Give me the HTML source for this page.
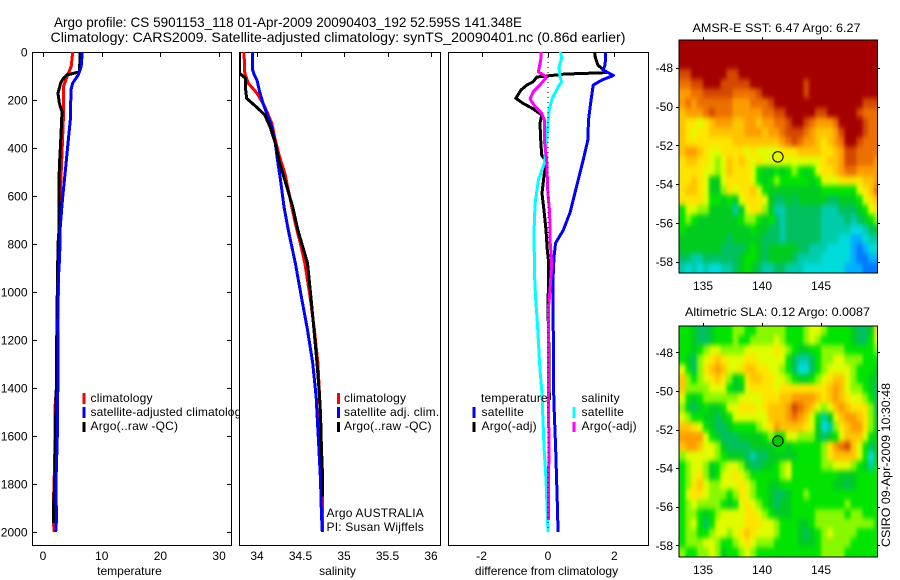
<!DOCTYPE html>
<html lang="en">
<head>
<meta charset="utf-8">
<title>Argo profile 5901153_118</title>
<style>
html,body{margin:0;padding:0;background:#fff;}
svg{display:block;}
text{font-family:"Liberation Sans",sans-serif;font-size:12px;fill:#000;}
.title{font-size:14px;}
.legend{letter-spacing:.2px;}
</style>
</head>
<body>
<svg id="chart" xmlns="http://www.w3.org/2000/svg" width="900" height="580" viewBox="0 0 900 580">
<defs>
<clipPath id="clip-temp"><rect x="32" y="52" width="199" height="493"/></clipPath>
<clipPath id="clip-sal"><rect x="239" y="52" width="201" height="493"/></clipPath>
<clipPath id="clip-diff"><rect x="448" y="52" width="200" height="493"/></clipPath>
<clipPath id="clip-sst"><rect x="679" y="40" width="198" height="233"/></clipPath>
<clipPath id="clip-sla"><rect x="679" y="326" width="198" height="231"/></clipPath>
<filter id="map-smooth" filterUnits="userSpaceOnUse" x="640" y="0" width="260" height="580" color-interpolation-filters="sRGB"><feGaussianBlur stdDeviation="1.6 2.6"/></filter>
</defs>
<rect width="900" height="580" fill="#fff"/>
<text class="title" x="54" y="27" textLength="468" lengthAdjust="spacingAndGlyphs">Argo profile: CS 5901153_118 01-Apr-2009 20090403_192 52.595S 141.348E</text>
<text class="title" x="50.5" y="42" textLength="575" lengthAdjust="spacingAndGlyphs">Climatology: CARS2009. Satellite-adjusted climatology: synTS_20090401.nc (0.86d earlier)</text>
<g id="panel-temp"></g>
<g id="legend-temp">
<rect x="82.5" y="393" width="3" height="11" fill="#f00"/>
<rect x="82.5" y="407" width="3" height="11" fill="#00f"/>
<rect x="82.5" y="422" width="3" height="10" fill="#000"/>
<text class="legend" x="90.5" y="402">climatology</text>
<text class="legend" x="90.5" y="416" style="letter-spacing:.12px">satellite-adjusted climatology</text>
<text class="legend" x="90.5" y="430">Argo(..raw -QC)</text>
</g>
<g id="panel-sal"></g>
<g id="legend-sal">
<rect x="337" y="393" width="3" height="11" fill="#f00"/>
<rect x="337" y="407" width="3" height="11" fill="#00f"/>
<rect x="337" y="422" width="3" height="10" fill="#000"/>
<text class="legend" x="344" y="402">climatology</text>
<text class="legend" x="344" y="416">satellite adj. clim.</text>
<text class="legend" x="344" y="430">Argo(..raw -QC)</text>
<text class="legend" x="326.5" y="517">Argo AUSTRALIA</text>
<text class="legend" x="326.5" y="531">PI: Susan Wijffels</text>
</g>
<g id="panel-diff"></g>
<g id="legend-diff">
<text class="legend" x="481" y="402">temperature</text>
<rect x="472.5" y="407" width="3" height="11" fill="#00f"/>
<rect x="472.5" y="422" width="3" height="10" fill="#000"/>
<text class="legend" x="481.5" y="416">satellite</text>
<text class="legend" x="481.5" y="430">Argo(-adj)</text>
<text class="legend" x="581.5" y="402">salinity</text>
<rect x="572.5" y="407" width="3" height="11" fill="#0ff"/>
<rect x="572.5" y="422" width="3" height="10" fill="#f0f"/>
<text class="legend" x="581.5" y="416">satellite</text>
<text class="legend" x="581.5" y="430">Argo(-adj)</text>
</g>
<g id="map-sst"></g>
<text x="692.5" y="32" textLength="168" lengthAdjust="spacingAndGlyphs">AMSR-E SST: 6.47 Argo: 6.27</text>
<g id="map-sla"></g>
<text x="685" y="316" textLength="185" lengthAdjust="spacingAndGlyphs">Altimetric SLA: 0.12 Argo: 0.0087</text>
<text transform="translate(890 547) rotate(-90)" textLength="164" lengthAdjust="spacingAndGlyphs">CSIRO 09-Apr-2009 10:30:48</text>
</svg>
<script>
// ---- tick labels ----
const depthTicks = [0,200,400,600,800,1000,1200,1400,1600,1800,2000];
const tempTicks = [0,10,20,30];
const salTicks = [34,34.5,35,35.5,36];
const diffTicks = [-2,0,2];
const lonTicks = [135,140,145];
const latTicks = [-48,-50,-52,-54,-56,-58];

// ---- temperature panel series ----
const tempClimDepth = [0,60,90,145,283,380,617,800,1000,1200,1400,1450,1700,1900,2000];
const tempClimValue = [5.06,4.8,4.3,3.46,3.46,3.3,2.9,2.7,2.6,2.5,2.4,2.1,2.0,1.76,1.85];
const tempSatDepth = [0,60,96,130,158,283,380,479,617,742,850,950,1130,1320,1600,1800,1950,2000];
const tempSatValue = [6.7,6.5,6.0,5.05,4.77,4.65,4.26,3.87,3.3,2.9,2.85,2.6,2.5,2.55,2.44,2.2,2.3,2.16];
const tempArgoDepth = [0,83,96,110,130,172,214,248,325,380,479,617,742,800,1000,1200,1400,1480,1600,1800,1900,1962];
const tempArgoValue = [6.36,6.2,4.03,3.46,3.0,2.55,2.8,3.24,3.1,3.0,2.78,2.72,2.72,2.55,2.44,2.33,2.27,2.2,2.1,2.0,1.76,1.76];

// ---- salinity panel series ----
const salClimDepth = [0,89,130,172,228,297,367,437,505,575,645,714,742,800,879,1021,1158,1296,1438,1600,1800,2000];
const salClimValue = [33.85,33.86,33.9,34,34.09,34.17,34.21,34.26,34.32,34.36,34.4,34.44,34.46,34.5,34.55,34.61,34.66,34.7,34.72,34.73,34.75,34.75];
const salSatDepth = [0,75,96,117,165,214,255,311,380,463,533,645,742,879,1021,1158,1296,1438,1505,1645,1783,1920,2000];
const salSatValue = [33.95,33.95,33.97,34,34.03,34.07,34.11,34.17,34.21,34.24,34.27,34.31,34.36,34.44,34.51,34.58,34.64,34.68,34.69,34.71,34.73,34.74,34.75];
const salArgoDepth = [0,89,110,158,193,228,262,311,380,463,533,645,742,879,1021,1158,1296,1438,1505,1645,1783,1853];
const salArgoValue = [33.8,33.8,33.87,33.87,33.88,33.99,34.09,34.15,34.21,34.26,34.32,34.41,34.47,34.58,34.62,34.655,34.69,34.72,34.73,34.74,34.755,34.755];

// ---- difference panel series ----
const diffTempSatDepth = [0,54,75,98,117,138,208,283,367,450,533,667,742,796,854,950,1200,1367,1505,1645,1783,1920,2000];
const diffTempSatValue = [1.74,1.72,1.66,1.97,1.62,1.36,1.29,1.22,1.2,1.06,.91,.67,.46,.23,.18,.15,.16,.16,.19,.23,.26,.29,.3];
const diffTempArgoDepth = [0,26,54,86,92,104,124,138,158,193,214,234,262,297,367,429,450,505,589,672,742,825,879,992,1075,1250,1450];
const diffTempArgoValue = [1.4,1.43,1.5,1.77,.5,-.34,-.45,-.64,-.81,-.97,-.75,-.48,-.19,-.24,-.22,-.19,-.09,-.11,-.18,-.11,-.06,-.02,.02,.01,0,.03,.04];
const diffSalSatDepth = [0,26,63,104,124,145,193,242,367,464,533,631,742,921,1033,1130,1229,1325,1421,1505,1645,1783,1920,2000];
const diffSalSatValue = [.38,.41,.33,.36,.41,.31,.13,.03,-.04,-.11,-.29,-.39,-.42,-.41,-.37,-.32,-.28,-.24,-.18,-.16,-.12,-.06,-.02,0];
const diffSalArgoDepth = [0,26,83,104,138,165,196,228,255,283,367,450,575,672,783,879,992,1075,1367,1500,1600,1950];
const diffSalArgoValue = [-.21,-.21,-.29,-.04,-.24,-.44,-.54,-.39,-.19,-.11,-.11,-.04,-.01,.05,.06,.11,.06,.01,.01,.01,.03,.01];

// ---- profile location ----
const profileLon = [141.348];
const profileLat = [-52.595];

// ---- map grids: colour level per half-degree cell, north to south, west to east ----
const sstGrid = [
[14,14,14,14,14,14,14,14,14,14,14,14,14,14,14,14,14,14,14,14,14,14,14,14,14,14,14,14,14,14,14,14,14,14],
[14,14,14,14,14,14,14,14,14,14,14,14,14,14,14,14,14,14,14,14,14,14,14,14,14,14,14,14,14,14,14,14,14,14],
[14,14,14,14,14,14,14,14,14,14,14,14,14,14,14,14,14,14,14,14,14,14,14,14,14,14,14,14,14,14,14,14,14,14],
[13,13,14,14,14,14,14,14,13,13,14,14,14,14,14,14,14,14,14,14,14,14,14,14,14,14,14,14,14,14,14,14,14,14],
[12,12,13,13,14,14,14,13,13,13,13,13,14,14,14,14,14,14,14,14,14,13,14,14,14,14,14,14,14,14,14,14,14,14],
[11,11,12,12,13,13,13,13,13,12,12,12,12,13,14,14,14,14,14,14,14,13,14,14,14,14,14,14,14,14,14,14,14,14],
[11,12,11,12,12,12,12,12,12,11,11,11,12,12,12,13,14,14,14,14,14,14,14,14,14,14,14,14,14,14,14,13,13,13],
[10,11,11,11,12,13,12,12,12,11,11,11,11,11,12,12,13,13,14,14,14,14,14,13,13,14,14,14,14,14,13,12,12,12],
[10,9,9,8,9,10,11,11,11,10,10,11,11,10,11,11,12,12,13,14,14,13,12,11,11,11,12,14,14,14,14,13,12,12],
[10,9,8,9,9,10,10,10,10,10,10,11,11,11,10,11,11,12,13,13,13,12,11,10,10,10,11,13,14,14,14,13,12,12],
[10,9,9,9,9,9,9,9,9,10,10,10,10,10,10,10,10,11,12,13,12,11,11,10,9,10,11,12,14,14,13,12,12,12],
[10,11,11,10,9,8,8,9,9,9,9,8,9,8,8,8,8,9,9,9,10,10,10,10,9,9,10,11,13,13,12,12,12,12],
[9,10,10,9,9,8,7,8,10,9,10,9,8,9,8,8,8,8,8,8,8,8,8,8,9,10,10,11,13,13,12,12,12,11],
[9,9,9,9,8,8,7,8,10,9,9,9,8,6,5,5,6,5,6,7,6,5,6,8,9,9,10,11,12,12,11,11,11,11],
[9,9,10,9,8,5,5,8,9,9,9,9,8,6,5,6,7,6,6,6,6,6,5,6,8,8,8,9,9,9,9,10,10,11],
[9,10,10,9,8,5,5,7,9,8,9,9,10,8,6,5,5,5,5,5,5,5,5,5,6,6,6,6,6,6,8,9,10,12],
[9,9,9,9,8,6,6,5,6,5,8,9,9,9,8,5,4,4,5,4,5,5,5,5,5,4,4,5,5,5,6,8,9,10],
[6,8,8,7,7,5,5,5,5,3,5,8,9,9,7,5,3,3,4,4,4,4,4,4,3,3,3,4,4,4,5,6,8,9],
[6,7,6,5,5,5,5,5,5,5,6,7,7,6,5,6,4,3,4,4,4,4,4,4,3,3,3,3,4,3,4,5,6,7],
[6,5,5,5,5,5,5,5,5,5,5,5,6,5,5,4,4,3,4,4,4,4,4,4,3,3,3,3,3,2,2,3,4,5],
[5,5,5,5,5,5,5,5,4,5,5,5,5,5,4,4,4,3,4,4,4,4,4,4,3,3,3,2,2,1,1,2,3,3],
[5,5,5,5,5,5,5,4,4,4,4,5,6,5,4,5,5,5,5,5,4,4,3,3,3,2,2,2,2,1,0,1,2,2],
[4,4,3,3,4,4,4,4,4,4,5,6,6,5,4,5,5,5,5,4,3,3,3,3,2,2,2,2,2,1,0,0,1,1],
[3,2,3,2,3,2,2,3,3,4,5,6,5,4,3,3,4,4,3,3,3,2,2,2,2,2,2,2,1,1,1,0,0,0]
];
const slaGrid = [
[6,6,5,4,4,5,6,6,6,7,7,6,6,7,7,7,7,7,6,6,6,7,8,8,7,6,6,6,6,5,4,4,5,9],
[6,6,5,4,4,5,6,6,6,7,6,6,7,7,7,7,8,7,6,6,6,7,8,7,6,6,6,6,6,5,4,4,6,8],
[6,6,5,6,7,8,8,7,7,7,7,8,8,8,8,8,9,8,7,6,5,5,6,6,7,7,7,7,6,6,6,6,6,7],
[6,5,4,7,8,9,10,9,8,8,8,9,9,8,8,8,8,8,6,4,3,3,4,6,7,7,8,8,7,7,7,6,6,6],
[8,6,4,7,9,10,11,10,8,8,9,10,10,9,9,8,8,7,6,4,2,2,4,6,7,8,8,8,8,7,6,6,6,5],
[10,7,6,7,8,9,10,9,7,5,6,9,10,10,9,9,8,8,7,6,5,5,6,7,8,9,10,10,8,7,6,6,5,5],
[10,7,7,7,7,8,8,8,6,5,5,8,9,9,9,9,8,9,9,9,9,9,9,9,9,10,11,10,8,7,7,6,5,4],
[8,6,5,6,7,7,7,7,7,7,8,8,8,8,9,9,9,10,10,11,11,11,11,10,9,10,11,10,9,8,8,7,6,4],
[7,5,4,5,6,5,5,6,8,8,9,9,9,8,9,10,10,10,11,13,12,11,10,8,7,8,10,11,10,9,9,9,7,4],
[8,7,6,6,5,5,4,5,6,8,8,8,8,8,8,10,10,10,11,12,11,10,8,6,3,5,8,10,11,11,10,9,7,5],
[10,10,9,8,6,5,4,4,5,6,6,6,6,7,8,9,11,10,10,10,10,9,8,5,2,3,7,9,10,11,11,9,7,5],
[11,11,11,11,8,6,5,4,4,4,5,5,5,5,6,7,6,6,8,8,7,7,7,5,4,5,6,8,10,10,10,8,6,5],
[10,11,11,10,8,8,7,5,4,4,4,4,5,5,5,5,6,6,5,6,6,6,6,6,7,9,11,12,13,10,8,6,4,5],
[7,8,8,8,8,8,7,6,5,5,5,4,3,4,4,5,5,5,5,5,6,6,6,6,7,9,10,10,10,10,8,6,2,5],
[6,7,8,8,7,5,6,7,8,8,7,5,4,4,5,5,6,7,8,6,6,6,6,6,7,7,8,8,8,7,6,5,3,6],
[6,7,8,9,7,5,6,8,8,9,8,7,6,6,6,6,6,7,8,6,6,6,6,6,6,6,6,5,5,5,6,6,6,6],
[6,7,9,10,8,7,7,8,8,8,9,8,7,6,6,5,5,6,6,6,6,6,6,6,6,6,5,5,4,5,6,6,6,6],
[6,8,9,9,8,7,7,7,6,7,9,8,7,6,6,5,4,4,5,6,6,7,6,6,6,6,6,6,6,6,6,6,6,6],
[6,7,8,7,7,7,7,6,5,6,8,9,8,7,6,5,4,5,5,6,6,6,6,6,6,6,6,6,7,6,6,6,6,6],
[6,7,7,6,5,6,7,8,8,8,8,9,9,8,7,6,5,5,5,6,6,6,6,7,7,7,7,7,6,7,7,6,6,6],
[6,7,8,6,4,6,8,8,8,8,8,9,9,9,8,8,7,6,6,6,5,5,6,7,7,7,7,7,7,7,7,7,7,6],
[6,7,7,6,6,7,8,8,7,8,9,10,9,8,8,8,7,6,6,6,5,4,5,6,7,8,7,7,7,7,6,6,6,6],
[6,7,7,7,8,8,7,6,6,7,8,9,8,7,7,7,6,6,6,6,5,5,5,6,7,7,7,7,7,6,6,6,6,6],
[7,6,6,7,7,8,7,5,6,6,7,8,7,6,6,6,6,6,6,6,6,6,6,6,7,7,7,7,6,6,6,6,6,6]
];
// colour ramp lookup, cold to warm
const levelColors = ['#0078ff','#00b0ff','#00dcdc','#00ccaa','#00c060','#00cc20','#00e400','#88f800','#e0fc00','#ffe400','#ffc400','#fc9c00','#ec7000','#d44800','#a40000'];

// ---- axis functions ----
const xTemp = v => 43 + 5.87 * v;
const xSal = v => 257 + 87 * (v - 34);
const xDiff = v => 548 + 33.2 * v;
const yDepth = d => 52 + 0.24 * d;
const xLon = v => 703 + 11.8 * (v - 135);
const ySstLat = v => 67.7 + 19.4 * (-48 - v);
const ySlaLat = v => 352.3 + 19.3 * (-48 - v);

const NS = 'http://www.w3.org/2000/svg';
function mk(parent, tag, attrs, txt) {
  const e = document.createElementNS(NS, tag);
  for (const k in attrs) e.setAttribute(k, attrs[k]);
  if (txt !== undefined) e.textContent = txt;
  parent.appendChild(e);
  return e;
}
function drawPanel(g, left, right, bottom, clipId, xScale, xTicks, xLabel, xLabelCx, hasDepthAxis, series) {
  const bg = mk(g, 'rect', {x: left, y: 52, width: right - left, height: bottom - 52, fill: '#fff'});
  
  
  const box = mk(g, 'rect', {x: left + .5, y: 52.5, width: right - left, height: bottom - 52, fill: 'none', stroke: '#000', 'stroke-width': 1, 'shape-rendering': 'crispEdges'});
  
  
  xTicks.forEach(v => {
    const x = Math.round(xScale(v)) + .5;
    const t = mk(g, 'line', {x1: x, x2: x, y1: 52, y2: 57, stroke: '#000', 'shape-rendering': 'crispEdges'});
    
    
    const l = mk(g, 'text', {x: xScale(v), y: 560, 'text-anchor': 'middle'}, String(v));
    
    
  });
  if (hasDepthAxis) {
    depthTicks.forEach(d => {
      const y = Math.round(yDepth(d)) + .5;
      [[left, left + 5], [right - 4, right + 1]].forEach(p => {
        const t = mk(g, 'line', {x1: p[0], x2: p[1], y1: y, y2: y, stroke: '#000', 'shape-rendering': 'crispEdges'});
        
        
      });
      const l = mk(g, 'text', {x: 27.5, y: yDepth(d) + 4.5, 'text-anchor': 'end'}, String(d));
      
      
    });
  }
  const lab = mk(g, 'text', {x: xLabelCx, y: 575, 'text-anchor': 'middle'}, xLabel);
  
  
  const inner = mk(g, 'g', {'clip-path': 'url(#' + clipId + ')'});
  series.forEach(s => {
    const pts = s.depth.map((d, i) => xScale(s.value[i]).toFixed(1) + ',' + yDepth(d).toFixed(1)).join(' ');
    const p = mk(inner, 'polyline', {points: pts, fill: 'none', stroke: s.color, 'stroke-width': s.width, 'shape-rendering': 'crispEdges', 'stroke-linejoin': 'round'});
    
    
  });
}
function drawMap(g, top, bottom, clipId, grid, yLat, latTop, circleFill) {
  const clipped = mk(g, 'g', {'clip-path': 'url(#' + clipId + ')'});
  const cells = mk(clipped, 'g', {filter: 'url(#map-smooth)'});
  const lastRow = grid.length - 1;
  grid.forEach((row, r) => row.forEach((level, c) => {
    // outermost cells are stretched past the frame so the smoothing does not fade at the edges
    const x0 = c === 0 ? xLon(133) - 20 : xLon(133 + c * .5);
    const x1 = c === row.length - 1 ? xLon(133 + (c + 1) * .5) + 20 : xLon(133 + (c + 1) * .5);
    const y0 = r === 0 ? yLat(latTop) - 20 : yLat(latTop - r * .5);
    const y1 = r === lastRow ? yLat(latTop - (r + 1) * .5) + 20 : yLat(latTop - (r + 1) * .5);
    const cell = mk(cells, 'rect', {x: x0.toFixed(1), y: y0.toFixed(1), width: (x1 - x0 + .6).toFixed(1), height: (y1 - y0 + .6).toFixed(1), fill: levelColors[level], 'shape-rendering': 'crispEdges'});
    
    
  }));
  const frame = mk(g, 'rect', {x: 679, y: top, width: 198.5, height: bottom - top, fill: 'none', stroke: '#000', 'shape-rendering': 'crispEdges'});
  
  
  lonTicks.forEach(v => {
    const x = Math.round(xLon(v)) + .5;
    const t = mk(g, 'line', {x1: x, x2: x, y1: top - 3, y2: top, stroke: '#000', 'shape-rendering': 'crispEdges'});
    
    
    const l = mk(g, 'text', {x: xLon(v), y: bottom + 17, 'text-anchor': 'middle'}, String(v));
    
    
  });
  latTicks.forEach(v => {
    const y = Math.round(yLat(v)) + .5;
    [[676, 679], [877, 880]].forEach(p => {
      const t = mk(g, 'line', {x1: p[0], x2: p[1], y1: y, y2: y, stroke: '#000', 'shape-rendering': 'crispEdges'});
      
      
    });
    const l = mk(g, 'text', {x: 673, y: yLat(v) + 4.5, 'text-anchor': 'end'}, String(v));
    
    
  });
  const marker = mk(g, 'circle', {cx: xLon(profileLon[0]), cy: yLat(profileLat[0]), r: 5.2, fill: circleFill, stroke: '#000', 'stroke-width': 1});
  
  
}

drawPanel(document.getElementById('panel-temp'), 32, 231, 545, 'clip-temp', xTemp, tempTicks, 'temperature', 129.5, true, [
  {name: 'temperature-climatology-line', depth: tempClimDepth, value: tempClimValue, color: '#f00', width: 3},
  {name: 'temperature-argo-line', depth: tempArgoDepth, value: tempArgoValue, color: '#000', width: 3},
  {name: 'temperature-satellite-line', depth: tempSatDepth, value: tempSatValue, color: '#00f', width: 3}
]);
drawPanel(document.getElementById('panel-sal'), 239, 440, 545, 'clip-sal', xSal, salTicks, 'salinity', 337.5, false, [
  {name: 'salinity-climatology-line', depth: salClimDepth, value: salClimValue, color: '#f00', width: 3},
  {name: 'salinity-satellite-line', depth: salSatDepth, value: salSatValue, color: '#00f', width: 3},
  {name: 'salinity-argo-line', depth: salArgoDepth, value: salArgoValue, color: '#000', width: 3}
]);
drawPanel(document.getElementById('panel-diff'), 448, 648, 545, 'clip-diff', xDiff, diffTicks, 'difference from climatology', 546.5, false, [
  {name: 'diff-temp-argo-line', depth: diffTempArgoDepth, value: diffTempArgoValue, color: '#000', width: 3},
  {name: 'diff-temp-satellite-line', depth: diffTempSatDepth, value: diffTempSatValue, color: '#00f', width: 3},
  {name: 'diff-sal-satellite-line', depth: diffSalSatDepth, value: diffSalSatValue, color: '#0ff', width: 3},
  {name: 'diff-sal-argo-line', depth: diffSalArgoDepth, value: diffSalArgoValue, color: '#f0f', width: 3}
]);
const zeroLine = mk(document.getElementById('panel-diff'), 'line', {x1: xDiff(0), x2: xDiff(0), y1: 52, y2: yDepth(2000), stroke: '#000', 'stroke-dasharray': '1 4', 'shape-rendering': 'crispEdges'});



drawMap(document.getElementById('map-sst'), 40, 273, 'clip-sst', sstGrid, ySstLat, -46.57, 'none');
drawMap(document.getElementById('map-sla'), 326, 557, 'clip-sla', slaGrid, ySlaLat, -46.62, '#00c800');
</script>
</body>
</html>
